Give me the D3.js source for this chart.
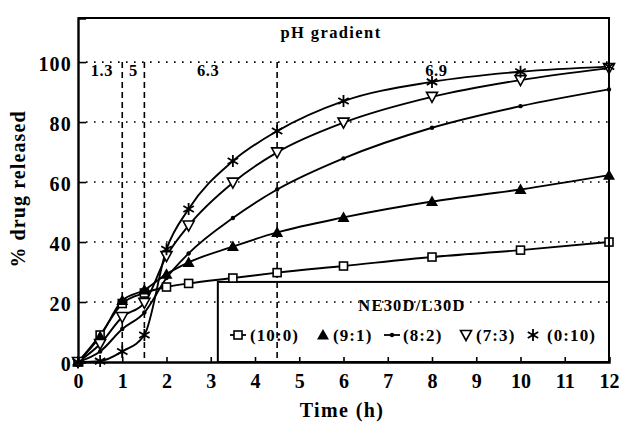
<!DOCTYPE html>
<html>
<head>
<meta charset="utf-8">
<script src="https://cdn.jsdelivr.net/npm/d3@7"></script>
<style>
  html, body { margin: 0; padding: 0; background: #fff; }
  svg { display: block; }
  text { font-family: "Liberation Serif", "Times New Roman", serif; font-weight: bold; fill: #000; }
</style>
</head>
<body>
<svg id="chart" width="622" height="423"></svg>
<script>
// ─── Data ─────────────────────────────────────────

const times = [0, 0.5, 1, 1.5, 2, 2.5, 3.5, 4.5, 6, 8, 10, 12];

const release10_0 = [0, 9, 19.5, 23, 25, 26.2, 28, 29.8, 32, 35, 37.3, 40];
const release9_1  = [0, 8.5, 20.5, 24, 29.3, 33.2, 38.5, 43.2, 48.2, 53.5, 57.5, 62.3];
const release8_2  = [0, 3.5, 11, 16.5, 28, 36.2, 48, 57.5, 67.9, 78.1, 85.3, 90.9];
const release7_3  = [0, 6, 15, 19.7, 35.3, 45.5, 59.8, 69.9, 79.8, 88.4, 94, 98];
const release0_10 = [0, 0.3, 3.5, 9, 37.6, 51, 67, 77, 87, 93.4, 96.8, 98.5];

const seriesNames = ['(10:0)', '(9:1)', '(8:2)', '(7:3)', '(0:10)'];

const xTicks = [0, 1, 2, 3, 4, 5, 6, 7, 8, 9, 10, 11, 12];
const yTicks = [0, 20, 40, 60, 80, 100];

// pH change times and the pH of each stage (label placed at t, just under 100 %)
const phChangeTimes = [1, 1.5, 4.5];
const phValues = ['1.3', '5', '6.3', '6.9'];
const phLabelTimes = [0.54, 1.25, 2.94, 8.1];

(function () {
  'use strict';

  const svg = d3.select('#chart');
  const left = 78, right = 609, top = 18, bottom = 362;

  const x = d3.scaleLinear().domain([0, 12]).range([left, right]);
  const y = d3.scaleLinear().domain([0, 114.7]).range([bottom, top]);

  const series = [release10_0, release9_1, release8_2, release7_3, release0_10];
  const markers = ['square', 'triangle', 'dot', 'down', 'star'];

  // ─── Gridlines (dotted, horizontal only) ─────────

  svg.append('g').selectAll('line')
    .data(yTicks.filter(function (d) { return d > 0; }))
    .join('line')
    .attr('x1', left).attr('x2', right)
    .attr('y1', function (d) { return y(d); })
    .attr('y2', function (d) { return y(d); })
    .attr('stroke', '#000')
    .attr('stroke-width', 1.6)
    .attr('stroke-dasharray', '1.6,6.4');

  // ─── pH boundaries (dashed) ──────────────────────

  svg.append('g').selectAll('line')
    .data(phChangeTimes)
    .join('line')
    .attr('x1', function (d) { return x(d); })
    .attr('x2', function (d) { return x(d); })
    .attr('y1', y(100)).attr('y2', bottom)
    .attr('stroke', '#000')
    .attr('stroke-width', 1.6)
    .attr('stroke-dasharray', '6,4');

  svg.append('g').selectAll('text')
    .data(phValues)
    .join('text')
    .attr('x', function (d, i) { return x(phLabelTimes[i]); })
    .attr('y', y(95.5))
    .attr('text-anchor', 'middle')
    .style('font-size', '16.5px')
    .style('letter-spacing', '0.6px')
    .text(function (d) { return d; });

  svg.append('text')
    .attr('x', 331).attr('y', 38)
    .attr('text-anchor', 'middle')
    .style('font-size', '16.5px')
    .style('letter-spacing', '1.4px')
    .text('pH gradient');

  // ─── Legend box ──────────────────────────────────

  const legLeft = x(3.16), legTop = y(26.7);
  svg.append('rect')
    .attr('x', legLeft).attr('y', legTop)
    .attr('width', right - legLeft).attr('height', bottom - legTop)
    .attr('fill', 'none')
    .attr('stroke', '#000')
    .attr('stroke-width', 2);

  svg.append('text')
    .attr('x', 412).attr('y', 311)
    .attr('text-anchor', 'middle')
    .style('font-size', '16.5px')
    .style('letter-spacing', '1.2px')
    .text('NE30D/L30D');

  // ─── Markers ─────────────────────────────────────

  function drawMarker(g, type, cx, cy) {
    if (type === 'square') {
      g.append('rect')
        .attr('x', cx - 4).attr('y', cy - 4)
        .attr('width', 8).attr('height', 8)
        .attr('fill', '#fff').attr('stroke', '#000').attr('stroke-width', 1.6);
    } else if (type === 'triangle') {
      g.append('path')
        .attr('d', 'M' + cx + ',' + (cy - 6) + 'L' + (cx + 6) + ',' + (cy + 4.5) + 'L' + (cx - 6) + ',' + (cy + 4.5) + 'Z')
        .attr('fill', '#000');
    } else if (type === 'dot') {
      g.append('circle')
        .attr('cx', cx).attr('cy', cy).attr('r', 2.2)
        .attr('fill', '#000');
    } else if (type === 'down') {
      g.append('path')
        .attr('d', 'M' + (cx - 5.5) + ',' + (cy - 4.5) + 'L' + (cx + 5.5) + ',' + (cy - 4.5) + 'L' + cx + ',' + (cy + 5.5) + 'Z')
        .attr('fill', '#fff').attr('stroke', '#000').attr('stroke-width', 1.6);
    } else if (type === 'star') {
      const r = 6;
      const p = 'M' + cx + ',' + (cy - r) + 'L' + cx + ',' + (cy + r) +
        'M' + (cx - r * 0.87) + ',' + (cy - r * 0.5) + 'L' + (cx + r * 0.87) + ',' + (cy + r * 0.5) +
        'M' + (cx - r * 0.87) + ',' + (cy + r * 0.5) + 'L' + (cx + r * 0.87) + ',' + (cy - r * 0.5);
      g.append('path').attr('d', p)
        .attr('fill', 'none').attr('stroke', '#000').attr('stroke-width', 1.8);
    }
  }

  // ─── Series ──────────────────────────────────────

  const line = d3.line()
    .x(function (d) { return x(d[0]); })
    .y(function (d) { return y(d[1]); })
    .curve(d3.curveMonotoneX);

  series.forEach(function (vals) {
    const pts = times.map(function (t, i) { return [t, vals[i]]; });
    svg.append('path')
      .datum(pts)
      .attr('d', line)
      .attr('fill', 'none')
      .attr('stroke', '#000')
      .attr('stroke-width', 1.9);
  });

  series.forEach(function (vals, s) {
    const g = svg.append('g').attr('class', 'markers');
    times.forEach(function (t, i) {
      drawMarker(g, markers[s], x(t), y(vals[i]));
    });
  });

  // ─── Legend entries ──────────────────────────────

  const legendMarkX = [238, 323, 392, 466, 533];
  const legendTextX = [250, 333, 403, 476, 547];
  const legY = 335;
  seriesNames.forEach(function (name, i) {
    const g = svg.append('g');
    if (markers[i] === 'square' || markers[i] === 'dot') {
      g.append('line')
        .attr('x1', legendMarkX[i] - 8).attr('x2', legendMarkX[i] + 8)
        .attr('y1', legY).attr('y2', legY)
        .attr('stroke', '#000').attr('stroke-width', 1.8);
    }
    drawMarker(g, markers[i], legendMarkX[i], legY);
    g.append('text')
      .attr('x', legendTextX[i]).attr('y', legY + 6)
      .style('font-size', '17px')
      .style('letter-spacing', '1.1px')
      .text(name);
  });

  // ─── Axes & frame ────────────────────────────────

  svg.append('path')
    .attr('d', 'M' + left + ',' + top + 'H' + right + 'V' + bottom)
    .attr('fill', 'none').attr('stroke', '#000').attr('stroke-width', 2);

  const xAxis = d3.axisBottom(x).tickValues(xTicks).tickSize(-5).tickPadding(12).tickFormat(d3.format('d'));
  const gx = svg.append('g')
    .attr('transform', 'translate(0,' + bottom + ')')
    .call(xAxis);
  gx.select('.domain').attr('stroke', '#000').attr('stroke-width', 2.4);
  gx.selectAll('.tick line').attr('stroke', '#000').attr('stroke-width', 1.6);
  gx.selectAll('.tick text')
    .attr('fill', '#000')
    .style('font-family', '"Liberation Serif", serif')
    .style('font-weight', 'bold')
    .style('font-size', '20px');

  const yAxis = d3.axisLeft(y).tickValues(yTicks).tickSize(-8).tickPadding(6);
  const gy = svg.append('g')
    .attr('transform', 'translate(' + left + ',0)')
    .call(yAxis);
  gy.select('.domain').attr('stroke', '#000').attr('stroke-width', 2.4);
  gy.selectAll('.tick line').attr('stroke', '#000').attr('stroke-width', 1.6);
  gy.selectAll('.tick text')
    .attr('fill', '#000')
    .attr('dy', '0.4em')
    .style('font-family', '"Liberation Serif", serif')
    .style('font-weight', 'bold')
    .style('font-size', '20px')
    .style('letter-spacing', '1.2px');

  svg.append('text')
    .attr('x', 342).attr('y', 417)
    .attr('text-anchor', 'middle')
    .style('font-size', '20px')
    .style('letter-spacing', '1.4px')
    .text('Time (h)');

  svg.append('text')
    .attr('transform', 'translate(25,189) rotate(-90)')
    .attr('text-anchor', 'middle')
    .style('font-size', '20px')
    .style('letter-spacing', '1.1px')
    .text('% drug released');
})();
</script>
</body>
</html>
